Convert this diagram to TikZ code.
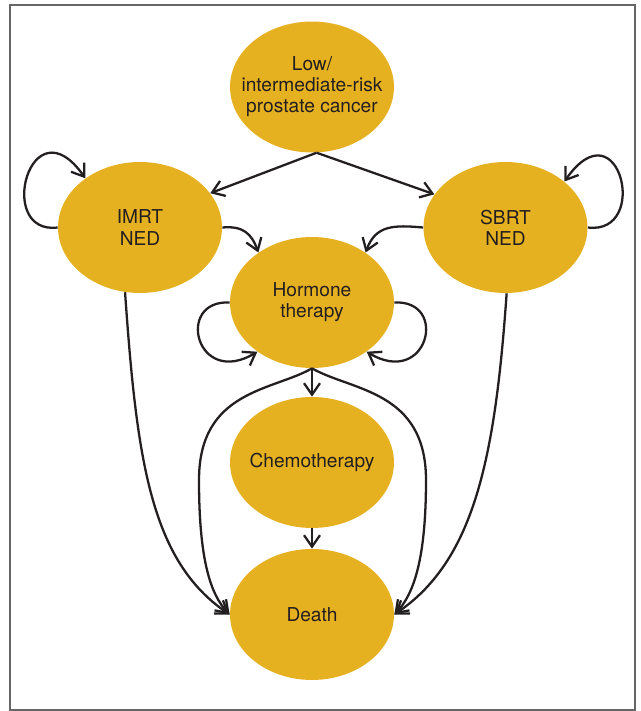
\documentclass[tikz,border=0pt]{standalone}
\usepackage{fontspec}
\setmainfont{TeX Gyre Heros}
\usetikzlibrary{arrows.meta,shapes.geometric}
\definecolor{gold}{RGB}{230,177,33}
\definecolor{ink}{RGB}{35,31,32}

\begin{document}
\begin{tikzpicture}[x=0.02cm,y=0.02cm,
	stage/.style={ellipse,fill=gold,minimum width=3.28cm,minimum height=2.62cm,inner sep=0pt},
	every label/.append style={align=center,text=ink,font=\fontsize{10.9}{12}\selectfont},
	arr/.style={-{Straight Barb[length=2.3mm,width=3.2mm]},line width=1.3pt,draw=ink}]
	\useasboundingbox (0,0) rectangle (641,711);
	\draw[gray!80!black,line width=0.6pt] (10,1) rectangle (635,706);

	% states
	\node[stage,label=center:{Low/\\intermediate-risk\\prostate cancer}] (low) at (312,624) {};
	\node[stage,label=center:{IMRT\\NED}] (imrt) at (140,483.5) {};
	\node[stage,label=center:{SBRT\\NED}] (sbrt) at (505.5,483.5) {};
	\node[stage,label=center:{Hormone\\therapy}] (horm) at (312,408.5) {};
	\node[stage,label=center:Chemotherapy] (chemo) at (312,248.5) {};
	\node[stage,label=center:Death] (death) at (312,96.5) {};
	\coordinate (hl) at (199,231);
	\coordinate (hr) at (426,231);

	% transitions
	\draw[arr] (low.-86) -- (imrt.26);
	\draw[arr] (low.-86) -- (sbrt.155);
	\draw[arr] (imrt.180) to[out=187,in=125,out distance=1.27cm,in distance=1.91cm] (imrt.138);
	\draw[arr] (sbrt.0) to[out=-7,in=55,out distance=1.27cm,in distance=1.91cm] (sbrt.38);
	\draw[arr] (imrt.0) to[out=5,in=110,looseness=1.2] (horm.137);
	\draw[arr] (sbrt.180) to[out=175,in=70,looseness=1.2] (horm.43);
	\draw[arr] (horm.180) to[out=177,in=211,out distance=1.1cm,in distance=1.43cm] (horm.222);
	\draw[arr] (horm.0) to[out=3,in=329,out distance=1.1cm,in distance=1.43cm] (horm.318);
	\draw[arr] (horm.south) -- (chemo.north);
	\draw[arr] (chemo.south) -- (death.north);
	\draw[arr] (horm.south) to[out=210,in=90,out distance=0.9cm,in distance=1.8cm] (hl)
		to[out=-90,in=134,out distance=1.6cm,in distance=0.55cm] (death.west);
	\draw[arr] (horm.south) to[out=-30,in=90,out distance=0.9cm,in distance=1.8cm] (hr)
		to[out=-90,in=46,out distance=1.6cm,in distance=0.55cm] (death.east);
	\draw[arr] (imrt.257) to[out=-86,in=146,out distance=3.36cm,in distance=1.91cm] (death.west);
	\draw[arr] (sbrt.-89) to[out=-94,in=34,out distance=3.36cm,in distance=1.91cm] (death.east);
\end{tikzpicture}
\end{document}
